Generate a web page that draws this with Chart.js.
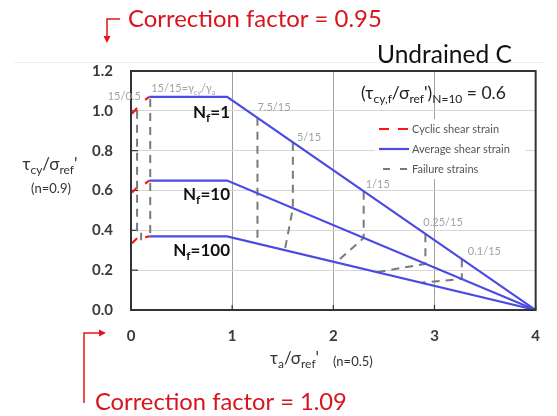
<!DOCTYPE html>
<html>
<head>
<meta charset="utf-8">
<title>Undrained C</title>
<script src="https://cdn.jsdelivr.net/npm/chart.js@4.4.1/dist/chart.umd.min.js"></script>
<style>
  body { margin: 0; background: #fff; }
  canvas { display: block; }
</style>
</head>
<body>
<canvas id="strainChart" width="557" height="416"></canvas>
<script>
const FONT = 'Lato, "Liberation Sans", sans-serif';

// Average shear strain contours, one per number of cycles to failure
const cycleCounts = ['1', '10', '100'];
const avgStrainX = [0.18, 0.95, 4];
const avgStrainN1 = [1.07, 1.07, 0];
const avgStrainN10 = [0.65, 0.65, 0];
const avgStrainN100 = [0.37, 0.37, 0];

// Cyclic shear strain marks (short pairs, null breaks the line)
const cyclicX = [0.01, 0.06, null, 0.14, 0.18, null, 0.01, 0.06, null, 0.14, 0.18, null, 0.01, 0.06, null, 0.14, 0.18];
const cyclicY = [0.985, 1.015, null, 1.055, 1.07, null, 0.59, 0.615, null, 0.635, 0.65, null, 0.335, 0.36, null, 0.365, 0.37];

// Failure strain paths between the contours
const failureX = [0.06, 0.06, 0.1, 0.1, null, 0.19, 0.19, null, 1.25, 1.25, null, 1.6, 1.6, 1.52, null,
  2.3, 2.3, 2.03, null, 2.91, 2.91, 2.43, null, 3.27, 3.27, 2.87];
const failureY = [1.0, 0.40, 0.40, 0.35, null, 1.06, 0.37, null, 0.965, 0.334, null, 0.84, 0.51, 0.30, null,
  0.594, 0.362, 0.24, null, 0.38, 0.232, 0.19, null, 0.255, 0.156, 0.137];

// Strain ratio labels (cyclic / average) and where they sit in data units
const strainLabels = ['15/0.5', '15/15=γ_{cy}/γ_{a}', '7.5/15', '5/15', '1/15', '0.25/15', '0.1/15'];
const strainLabelX = [-0.23, 0.2, 1.25, 1.64, 2.32, 2.89, 3.33];
const strainLabelY = [1.055, 1.095, 1.0, 0.85, 0.615, 0.42, 0.275];

const legendLabels = ['Cyclic shear strain', 'Average shear strain', 'Failure strains'];

const BLUE = '#4b4be3';
const RED = '#ff1414';
const GREY = '#7a7a7a';

function toPoints(xs, ys) {
  return xs.map((x, i) => ({ x: x, y: ys[i] }));
}

// draws text where _{...} parts become subscripts; y is the baseline
function drawRich(ctx, text, x, y, size, opts) {
  const parts = [];
  const re = /_\{([^}]*)\}/g;
  let last = 0, m;
  while ((m = re.exec(text))) {
    if (m.index > last) parts.push({ t: text.slice(last, m.index), sub: false });
    parts.push({ t: m[1], sub: true });
    last = re.lastIndex;
  }
  if (last < text.length) parts.push({ t: text.slice(last), sub: false });

  const weight = opts.bold ? 'bold ' : '';
  const subSize = Math.round(size * 0.68);
  let width = 0;
  parts.forEach(p => {
    ctx.font = weight + (p.sub ? subSize : size) + 'px ' + FONT;
    p.w = ctx.measureText(p.t).width;
    width += p.w;
  });
  let cx = x;
  if (opts.align === 'center') cx = x - width / 2;
  if (opts.align === 'right') cx = x - width;
  ctx.fillStyle = opts.color || '#222';
  ctx.textBaseline = 'alphabetic';
  ctx.textAlign = 'left';
  parts.forEach(p => {
    ctx.font = weight + (p.sub ? subSize : size) + 'px ' + FONT;
    ctx.fillText(p.t, cx, p.sub ? y + size * 0.24 : y);
    cx += p.w;
  });
  return width;
}

// font size that makes a line of text a given width
function fitSize(ctx, text, weight, width) {
  ctx.font = weight + ' 20px ' + FONT;
  return 20 * width / ctx.measureText(text).width;
}

function arrowHead(ctx, x, y, dir) {
  ctx.beginPath();
  if (dir === 'down') {
    ctx.moveTo(x - 3.5, y - 7); ctx.lineTo(x + 3.5, y - 7); ctx.lineTo(x, y);
  } else {
    ctx.moveTo(x - 7, y - 3.5); ctx.lineTo(x - 7, y + 3.5); ctx.lineTo(x, y);
  }
  ctx.closePath();
  ctx.fill();
}

const decorations = {
  id: 'decorations',
  beforeDatasetsDraw(chart) {
    const ctx = chart.ctx;
    const area = chart.chartArea;
    const xs = chart.scales.x, ys = chart.scales.y;
    ctx.save();
    // small inward ticks on the axes
    ctx.strokeStyle = '#333';
    ctx.lineWidth = 1.2;
    ys.ticks.forEach(t => {
      const py = ys.getPixelForValue(t.value);
      ctx.beginPath(); ctx.moveTo(area.left, py); ctx.lineTo(area.left + 7, py); ctx.stroke();
    });
    xs.ticks.forEach(t => {
      const px = xs.getPixelForValue(t.value);
      ctx.beginPath(); ctx.moveTo(px, area.bottom); ctx.lineTo(px, area.bottom - 5); ctx.stroke();
    });
    // legend panel hides the grid behind it
    ctx.fillStyle = '#fff';
    ctx.fillRect(375, 119, 151, 60);
    ctx.restore();
  },
  afterDraw(chart) {
    const ctx = chart.ctx;
    const area = chart.chartArea;
    const xs = chart.scales.x, ys = chart.scales.y;
    ctx.save();

    // plot frame
    ctx.strokeStyle = '#333';
    ctx.lineWidth = 2;
    ctx.strokeRect(area.left, area.top, area.right - area.left, area.bottom - area.top);

    // faint rule under the heading
    ctx.strokeStyle = '#efefef';
    ctx.lineWidth = 1;
    ctx.beginPath(); ctx.moveTo(14, 62.5); ctx.lineTo(544, 62.5); ctx.stroke();

    // legend
    const rows = [
      { color: RED, dash: [10, 9] },
      { color: BLUE, dash: [] },
      { color: GREY, dash: [7, 10] }
    ];
    rows.forEach((r, i) => {
      const y = 129 + i * 20;
      ctx.strokeStyle = r.color;
      ctx.lineWidth = 2.2;
      ctx.setLineDash(r.dash);
      ctx.beginPath(); ctx.moveTo(i === 2 ? 383 : 379, y); ctx.lineTo(409, y); ctx.stroke();
      ctx.setLineDash([]);
      ctx.fillStyle = '#555';
      ctx.font = '11px ' + FONT;
      ctx.textBaseline = 'middle';
      ctx.textAlign = 'left';
      ctx.fillText(legendLabels[i], 412, y);
    });

    // strain ratio labels
    strainLabels.forEach((label, i) => {
      drawRich(ctx, label, xs.getPixelForValue(strainLabelX[i]), ys.getPixelForValue(strainLabelY[i]), 11, { color: '#a3a3a3' });
    });

    // contour names
    const nfBaselines = [118, 200, 256];
    cycleCounts.forEach((n, i) => {
      drawRich(ctx, 'N_{f}=' + n, 230, nfBaselines[i], 17, { bold: true, align: 'right', color: '#111' });
    });

    // heading and failure ratio
    ctx.fillStyle = '#111';
    ctx.textAlign = 'left';
    ctx.textBaseline = 'alphabetic';
    ctx.font = fitSize(ctx, 'Undrained C', '', 135) + 'px ' + FONT;
    ctx.fillText('Undrained C', 377, 63);
    drawRich(ctx, "(τ_{cy,f}/σ_{ref}')_{N=10} = 0.6", 361, 99, 17.5, { color: '#222' });

    // axis titles
    drawRich(ctx, "τ_{cy}/σ_{ref}'", 50, 170, 17, { align: 'center', color: '#333' });
    drawRich(ctx, '(n=0.9)', 51, 193, 13, { align: 'center', color: '#333' });
    drawRich(ctx, "τ_{a}/σ_{ref}'", 270, 364, 17, { color: '#333' });
    drawRich(ctx, '(n=0.5)', 333, 366, 13, { color: '#333' });

    // correction factor notes
    ctx.fillStyle = '#d8141c';
    ctx.strokeStyle = '#e8141c';
    ctx.lineWidth = 1.5;
    let size = fitSize(ctx, 'Correction factor = 0.95', '', 254);
    ctx.font = size + 'px ' + FONT;
    ctx.textBaseline = 'alphabetic';
    ctx.fillText('Correction factor = 0.95', 128, 27);
    size = fitSize(ctx, 'Correction factor = 1.09', '', 252);
    ctx.font = size + 'px ' + FONT;
    ctx.fillText('Correction factor = 1.09', 95, 410);

    ctx.beginPath(); ctx.moveTo(120, 19); ctx.lineTo(107, 19); ctx.lineTo(107, 38); ctx.stroke();
    ctx.fillStyle = '#e8141c';
    arrowHead(ctx, 107, 43, 'down');
    ctx.beginPath(); ctx.moveTo(84, 403); ctx.lineTo(84, 333); ctx.lineTo(100, 333); ctx.stroke();
    arrowHead(ctx, 106, 333, 'right');

    ctx.restore();
  }
};

const ctx = document.getElementById('strainChart').getContext('2d');

new Chart(ctx, {
  type: 'scatter',
  data: {
    datasets: [
      { label: 'N=1', data: toPoints(avgStrainX, avgStrainN1), borderColor: BLUE, borderWidth: 2.2 },
      { label: 'N=10', data: toPoints(avgStrainX, avgStrainN10), borderColor: BLUE, borderWidth: 2.2 },
      { label: 'N=100', data: toPoints(avgStrainX, avgStrainN100), borderColor: BLUE, borderWidth: 2.2 },
      { label: 'Failure strains', data: toPoints(failureX, failureY), borderColor: GREY, borderWidth: 2, borderDash: [8, 6] },
      { label: 'Cyclic shear strain', data: toPoints(cyclicX, cyclicY), borderColor: RED, borderWidth: 2.2 }
    ]
  },
  options: {
    responsive: false,
    animation: false,
    devicePixelRatio: 1,
    showLine: true,
    spanGaps: false,
    elements: { point: { radius: 0, hoverRadius: 0 }, line: { tension: 0, borderCapStyle: 'butt' } },
    layout: { padding: { top: 71, right: 21, left: 0, bottom: 0 } },
    plugins: { legend: { display: false }, tooltip: { enabled: false } },
    scales: {
      x: {
        type: 'linear',
        min: 0,
        max: 4,
        afterFit: scale => { scale.height = 106; },
        ticks: { stepSize: 1, padding: 17, color: '#3a3a3a', font: { family: FONT, size: 15, weight: 'bold' } },
        grid: { color: '#a0a0a0', lineWidth: 1, drawTicks: false },
        border: { display: false }
      },
      y: {
        type: 'linear',
        min: 0,
        max: 1.2,
        afterFit: scale => { scale.width = 131; },
        ticks: {
          stepSize: 0.2,
          padding: 18,
          color: '#3a3a3a',
          font: { family: FONT, size: 15, weight: 'bold' },
          callback: v => v.toFixed(1)
        },
        grid: { color: '#d6d6d6', lineWidth: 1, drawTicks: false },
        border: { display: false }
      }
    }
  },
  plugins: [decorations]
});
</script>
</body>
</html>
